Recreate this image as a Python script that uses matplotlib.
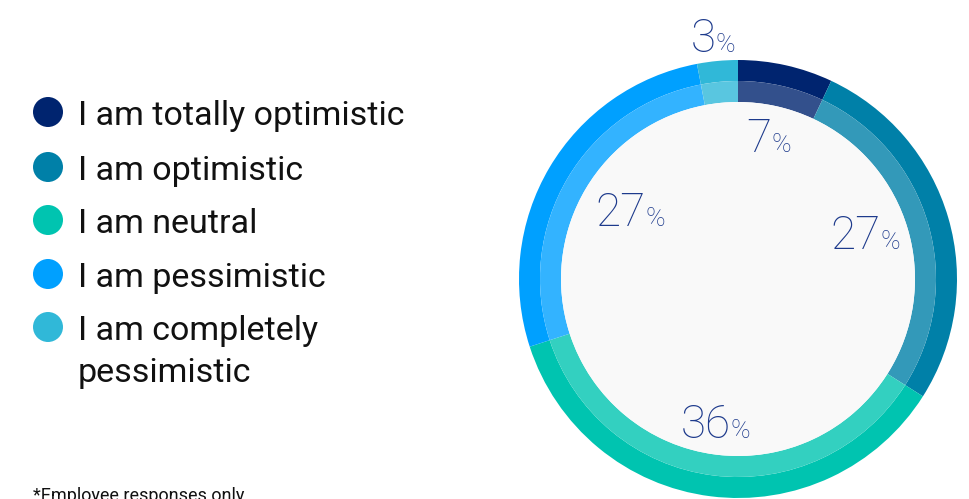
import numpy as np
import matplotlib
matplotlib.use('Agg')
import matplotlib.pyplot as plt
import matplotlib.colors as mcolors
from matplotlib.patches import Circle

plt.rcParams['font.family'] = ['Roboto', 'DejaVu Sans']

categories = ['I am totally optimistic', 'I am optimistic', 'I am neutral',
              'I am pessimistic', 'I am completely\npessimistic']
shares = [7, 27, 36, 27, 3]
colors = ['#00246f', '#0080a8', '#00c4b0', '#00a0ff', '#30b8d8']
footnote = '*Employee responses only'

# label anchors (baseline centre) in donut data units
label_xy = [(0.139, 0.580), (0.582, 0.137), (-0.103, -0.726),
            (-0.491, 0.242), (-0.114, 1.037)]

W, H = 970, 499
R = 219.0


def lighten(c, amt=0.2):
    rgb = np.array(mcolors.to_rgb(c))
    return rgb + (1 - rgb) * amt


fig = plt.figure(figsize=(W / 100, H / 100), dpi=100)
fig.patch.set_facecolor('white')

# overlay in pixel coordinates for legend and footnote
lax = fig.add_axes([0, 0, 1, 1])
lax.set_xlim(0, W)
lax.set_ylim(H, 0)
lax.axis('off')

# donut: outer band in full colour, inner band lightened
cx, cy = 738, 279
ax = fig.add_axes([(cx - R) / W, (H - cy - R) / H, 2 * R / W, 2 * R / H])
band = 21 / R
ax.pie(shares, colors=colors, radius=1, startangle=90, counterclock=False,
       wedgeprops=dict(width=band, linewidth=0))
ax.pie(shares, colors=[lighten(c) for c in colors], radius=1 - band,
       startangle=90, counterclock=False,
       wedgeprops=dict(width=band, linewidth=0))
ax.add_patch(Circle((0, 0), 1 - 2 * band, facecolor='#f9f9f9', lw=0))
ax.set_xlim(-1, 1)
ax.set_ylim(-1, 1)
ax.set_aspect('equal')
ax.axis('off')

label_color = '#1d3a8c'
fig.canvas.draw()
renderer = fig.canvas.get_renderer()
for v, (x, y) in zip(shares, label_xy):
    t1 = ax.text(x, y, str(v), ha='right', va='baseline', fontsize=33,
                 fontweight='light', color=label_color)
    t2 = ax.text(x, y, '%', ha='left', va='baseline', fontsize=19,
                 fontweight='light', color=label_color)
    w1 = t1.get_window_extent(renderer).width / R
    w2 = t2.get_window_extent(renderer).width / R
    s = (w1 - w2) / 2
    t1.set_x(x + s)
    t2.set_x(x + s)

# legend
leg_y = [112, 167, 220, 274, 327]
for c, lab, y in zip(colors, categories, leg_y):
    lax.add_patch(Circle((48, y), 15, facecolor=c, lw=0))
    for i, line in enumerate(lab.split('\n')):
        lax.text(78, y + 13 + i * 42, line, ha='left', va='baseline',
                 fontsize=24.5, color='#111111')

lax.text(33, 501, footnote, ha='left', va='baseline', fontsize=13,
         color='#111111')

fig.savefig('out.png', dpi=100)
